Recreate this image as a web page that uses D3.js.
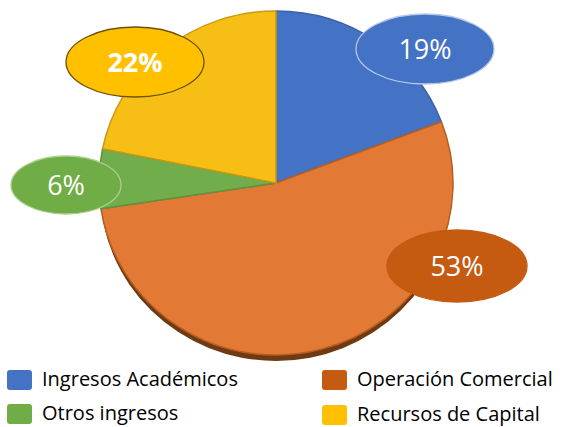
<!DOCTYPE html>
<html>
<head>
<meta charset="utf-8">
<script src="https://d3js.org/d3.v7.min.js"></script>
<style>
 body { margin: 0; background: #fff; }
 text { font-family: "Open Sans", Lato, sans-serif; }
</style>
</head>
<body>
<script>
var w = 563, h = 427;

// data
var categories = ["Ingresos Académicos", "Operación Comercial", "Otros ingresos", "Recursos de Capital"];
var values = [19.2, 53.4, 5.6, 21.8];
var colors = ["#4472C4", "#E27A35", "#72AD4C", "#F7BE16"];
var strokes = ["#3A62A8", "#B85E22", "#5E9140", "#C99A10"];
var labelFill = ["#4472C4", "#C55A11", "#70AD47", "#FFC000"];
var labelStroke = ["#B4C7E7", "#C55A11", "#A9D18E", "#6B5200"];
var labelPos = [[425, 49], [457, 266], [66, 185], [135, 62]];
var labelR = [[69, 35], [70, 36], [55, 29], [69, 35]];
var legendColors = ["#4472C4", "#C55A11", "#70AD47", "#FFC000"];

var svg = d3.select("body").append("svg")
  .attr("width", w).attr("height", h);

var cx = 276, cy = 183, r = 174;

var pie = d3.pie().sort(null).value(function(d) { return d; });
var arc = d3.arc().innerRadius(0).outerRadius(r);
var arcs = pie(values);

// slightly squashed like the original
var g = svg.append("g").attr("transform", "translate(" + cx + "," + cy + ") scale(" + (177 / r) + "," + (172 / r) + ")");

// bottom shadow / bevel
g.append("circle")
  .attr("cx", 0).attr("cy", 7).attr("r", r - 1)
  .attr("fill", "#6E3A12");

g.selectAll("path.slice")
  .data(arcs)
  .enter().append("path")
  .attr("class", "slice")
  .attr("d", arc)
  .attr("fill", function(d, i) { return colors[i]; })
  .attr("stroke", function(d, i) { return strokes[i]; })
  .attr("stroke-width", 1.5)
  .attr("stroke-linejoin", "round");

// label bubbles
var lab = svg.selectAll("g.lab")
  .data(arcs)
  .enter().append("g")
  .attr("class", "lab")
  .attr("transform", function(d, i) { return "translate(" + labelPos[i][0] + "," + labelPos[i][1] + ")"; });

lab.append("ellipse")
  .attr("rx", function(d, i) { return labelR[i][0]; })
  .attr("ry", function(d, i) { return labelR[i][1]; })
  .attr("fill", function(d, i) { return labelFill[i]; })
  .attr("stroke", function(d, i) { return labelStroke[i]; })
  .attr("stroke-width", 1.3);

lab.append("text")
  .attr("text-anchor", "middle")
  .attr("dy", "0.36em")
  .attr("fill", "#fff")
  .attr("font-size", 27)
  .attr("font-weight", function(d, i) { return i === 3 ? "bold" : "normal"; })
  .text(function(d) { return Math.round(d.data) + "%"; });

// legend
var legPos = [[7, 370], [322, 370], [7, 404], [322, 405]];
var leg = svg.selectAll("g.leg")
  .data(categories)
  .enter().append("g")
  .attr("class", "leg")
  .attr("transform", function(d, i) { return "translate(" + legPos[i][0] + "," + legPos[i][1] + ")"; });

leg.append("rect")
  .attr("width", 25).attr("height", 20)
  .attr("rx", 3)
  .attr("fill", function(d, i) { return legendColors[i]; });

leg.append("text")
  .attr("x", 35).attr("y", 16)
  .attr("font-size", 20)
  .attr("fill", "#000")
  .text(function(d) { return d; });
</script>
</body>
</html>
